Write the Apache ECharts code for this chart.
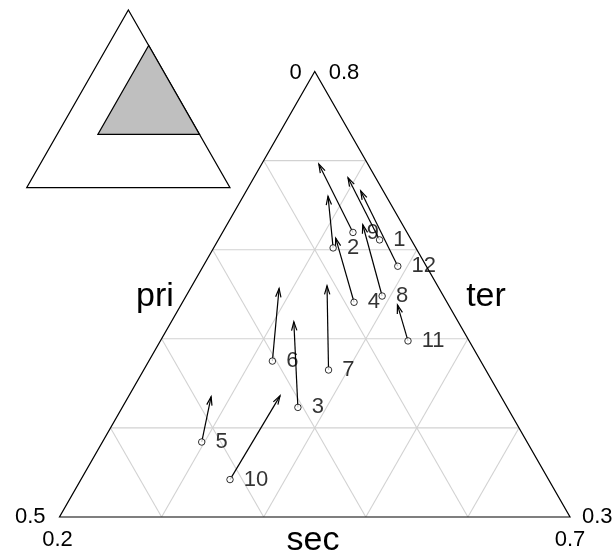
<!DOCTYPE html>
<html>
<head>
<meta charset="utf-8">
<script src="https://cdn.jsdelivr.net/npm/echarts@6/dist/echarts.min.js"></script>
<style>
  html, body { margin: 0; padding: 0; background: #fff; }
  #chart { width: 615px; height: 558px; }
</style>
</head>
<body>
<div id="chart"></div>
<script>
// Sector shares of employment (primary / secondary / tertiary) for 12 countries:
// circles = first year, arrow heads = later year.
const countryIds = [1, 2, 3, 4, 5, 6, 7, 8, 9, 10, 11, 12];

const pri78 = [0.031, 0.081, 0.205, 0.091, 0.318, 0.204, 0.154, 0.060, 0.053, 0.312, 0.060, 0.028];
const sec78 = [0.358, 0.317, 0.372, 0.368, 0.297, 0.321, 0.381, 0.392, 0.328, 0.346, 0.443, 0.391];
const ter78 = [0.611, 0.602, 0.423, 0.541, 0.384, 0.475, 0.465, 0.548, 0.620, 0.342, 0.498, 0.582];

const pri97 = [0.027, 0.057, 0.161, 0.073, 0.284, 0.157, 0.108, 0.039, 0.048, 0.216, 0.050, 0.022];
const sec97 = [0.292, 0.283, 0.320, 0.314, 0.281, 0.287, 0.332, 0.333, 0.256, 0.348, 0.412, 0.312];
const ter97 = [0.680, 0.660, 0.519, 0.613, 0.435, 0.557, 0.559, 0.628, 0.696, 0.436, 0.538, 0.666];

// Zoomed triangle: range of each component
const sectorNames = ['pri', 'sec', 'ter'];
const rangeMin = [0, 0.2, 0.3];
const rangeMax = [0.5, 0.7, 0.8];

// Reference lines inside the zoomed triangle
const priTicks = [0.1, 0.2, 0.3, 0.4];
const secTicks = [0.3, 0.4, 0.5, 0.6];
const terTicks = [0.4, 0.5, 0.6, 0.7];

// Ternary composition -> cartesian (x along the base, y = height fraction)
function toXY(p, s, t, mins, maxs) {
  const a = (p - mins[0]) / (maxs[0] - mins[0]);
  const b = (s - mins[1]) / (maxs[1] - mins[1]);
  const c = (t - mins[2]) / (maxs[2] - mins[2]);
  const sum = a + b + c;
  return [(b + c / 2) / sum, c / sum];
}
const mainXY = (p, s, t) => toXY(p, s, t, rangeMin, rangeMax);
const fullXY = (p, s, t) => toXY(p, s, t, [0, 0, 0], [1, 1, 1]);

// Grid line segments (constant value of one component)
const gridSegs = [];
priTicks.forEach(v => {
  const a = mainXY(v, 1 - v - rangeMin[2], rangeMin[2]);
  const b = mainXY(v, rangeMin[1], 1 - v - rangeMin[1]);
  gridSegs.push([a[0], a[1], b[0], b[1]]);
});
secTicks.forEach(v => {
  const a = mainXY(1 - v - rangeMin[2], v, rangeMin[2]);
  const b = mainXY(rangeMin[0], v, 1 - v - rangeMin[0]);
  gridSegs.push([a[0], a[1], b[0], b[1]]);
});
terTicks.forEach(v => {
  const a = mainXY(1 - v - rangeMin[1], rangeMin[1], v);
  const b = mainXY(rangeMin[0], 1 - v - rangeMin[0], v);
  gridSegs.push([a[0], a[1], b[0], b[1]]);
});

// Triangle corners (pri max, sec max, ter max)
const cornerBL = mainXY(rangeMax[0], rangeMin[1], rangeMin[2]);
const cornerBR = mainXY(rangeMin[0], rangeMax[1], rangeMin[2]);
const cornerTop = mainXY(rangeMin[0], rangeMin[1], rangeMax[2]);

const arrowData = countryIds.map((id, i) => {
  const a = mainXY(pri78[i], sec78[i], ter78[i]);
  const b = mainXY(pri97[i], sec97[i], ter97[i]);
  return [a[0], a[1], b[0], b[1]];
});
const startData = countryIds.map((id, i) => {
  const a = mainXY(pri78[i], sec78[i], ter78[i]);
  return [a[0], a[1], id];
});

// Inset: full triangle and the zoomed region within it
const insetPolys = [
  [fullXY(1, 0, 0), fullXY(0, 1, 0), fullXY(0, 0, 1)],
  [fullXY(rangeMax[0], rangeMin[1], rangeMin[2]),
   fullXY(rangeMin[0], rangeMax[1], rangeMin[2]),
   fullXY(rangeMin[0], rangeMin[1], rangeMax[2])]
];

const FONT = '"Liberation Sans", Arial, sans-serif';
const NUM_SIZE = 22;
const NAME_SIZE = 34;
const chart = echarts.init(document.getElementById('chart'));

const hiddenAxis = (idx) => ({
  type: 'value', gridIndex: idx, min: 0, max: 1, show: false,
  splitLine: { show: false }, axisLine: { show: false }
});

const nameText = (s, x, y) => ({
  type: 'text', x: x, y: y,
  style: { text: s, font: NAME_SIZE + 'px ' + FONT, fill: '#000', textAlign: 'center', textVerticalAlign: 'middle' }
});

chart.setOption({
  animation: false,
  backgroundColor: '#fff',
  grid: [
    { left: 59.5, top: 71.5, width: 510.5, height: 445.5 },
    { left: 26.7, top: 10, width: 203.3, height: 177.7 }
  ],
  xAxis: [hiddenAxis(0), hiddenAxis(1)],
  yAxis: [hiddenAxis(0), hiddenAxis(1)],
  graphic: [
    nameText(sectorNames[0], 155, 297),
    nameText(sectorNames[2], 486, 297),
    nameText(sectorNames[1], 313, 541)
  ],
  series: [
    {
      // light reference lines
      type: 'custom', xAxisIndex: 0, yAxisIndex: 0, z: 1,
      data: gridSegs,
      encode: { x: [0, 2], y: [1, 3] },
      renderItem: (params, api) => {
        const a = api.coord([api.value(0), api.value(1)]);
        const b = api.coord([api.value(2), api.value(3)]);
        return { type: 'line', shape: { x1: a[0], y1: a[1], x2: b[0], y2: b[1] },
                 style: { stroke: '#d2d2d2', lineWidth: 1.1 } };
      }
    },
    {
      // triangle outline and corner labels
      type: 'custom', xAxisIndex: 0, yAxisIndex: 0, z: 2,
      data: [[0]],
      renderItem: (params, api) => {
        const bl = api.coord(cornerBL), br = api.coord(cornerBR), tp = api.coord(cornerTop);
        const txt = (s, x, y, align) => ({
          type: 'text', x: x, y: y,
          style: { text: s, font: NUM_SIZE + 'px ' + FONT, fill: '#000', textAlign: align, textVerticalAlign: 'middle' }
        });
        return { type: 'group', children: [
          { type: 'polygon', shape: { points: [bl, br, tp] }, style: { stroke: '#000', fill: null, lineWidth: 1.2 } },
          txt(String(rangeMin[0]), tp[0] - 13, tp[1] + 1, 'right'),
          txt(String(rangeMax[2]), tp[0] + 14, tp[1] + 1, 'left'),
          txt(String(rangeMax[0]), bl[0] - 14, bl[1], 'right'),
          txt(String(rangeMin[1]), bl[0] - 2, bl[1] + 23, 'center'),
          txt(String(rangeMax[1]), br[0], br[1] + 23, 'center'),
          txt(String(rangeMin[2]), br[0] + 12, br[1], 'left')
        ] };
      }
    },
    {
      // change arrows
      type: 'custom', xAxisIndex: 0, yAxisIndex: 0, z: 3,
      data: arrowData,
      encode: { x: [0, 2], y: [1, 3] },
      renderItem: (params, api) => {
        const a = api.coord([api.value(0), api.value(1)]);
        const b = api.coord([api.value(2), api.value(3)]);
        const ang = Math.atan2(b[1] - a[1], b[0] - a[0]);
        const L = 9, w = 0.3;
        const h1 = [b[0] - L * Math.cos(ang - w), b[1] - L * Math.sin(ang - w)];
        const h2 = [b[0] - L * Math.cos(ang + w), b[1] - L * Math.sin(ang + w)];
        return { type: 'group', children: [
          { type: 'line', shape: { x1: a[0], y1: a[1], x2: b[0], y2: b[1] }, style: { stroke: '#000', lineWidth: 1.2 } },
          { type: 'polyline', shape: { points: [h1, b, h2] }, style: { stroke: '#000', fill: null, lineWidth: 1.2 } }
        ] };
      }
    },
    {
      // starting positions with their numbers
      type: 'scatter', xAxisIndex: 0, yAxisIndex: 0, z: 4,
      data: startData,
      symbol: 'circle', symbolSize: 6.5,
      itemStyle: { color: '#fff', borderColor: '#000', borderWidth: 1 },
      label: {
        show: true, position: 'right', distance: 10,
        formatter: p => String(p.value[2]),
        fontFamily: FONT, fontSize: NUM_SIZE, color: '#000'
      }
    },
    {
      // position of the zoomed region in the full triangle
      type: 'custom', xAxisIndex: 1, yAxisIndex: 1, z: 2,
      data: [[0], [1]],
      renderItem: (params, api) => {
        const pts = insetPolys[params.dataIndex].map(p => api.coord(p));
        return { type: 'polygon', shape: { points: pts },
                 style: { stroke: '#000', lineWidth: 1.2, fill: params.dataIndex === 0 ? '#fff' : '#bfbfbf' } };
      }
    }
  ]
});
</script>
</body>
</html>
